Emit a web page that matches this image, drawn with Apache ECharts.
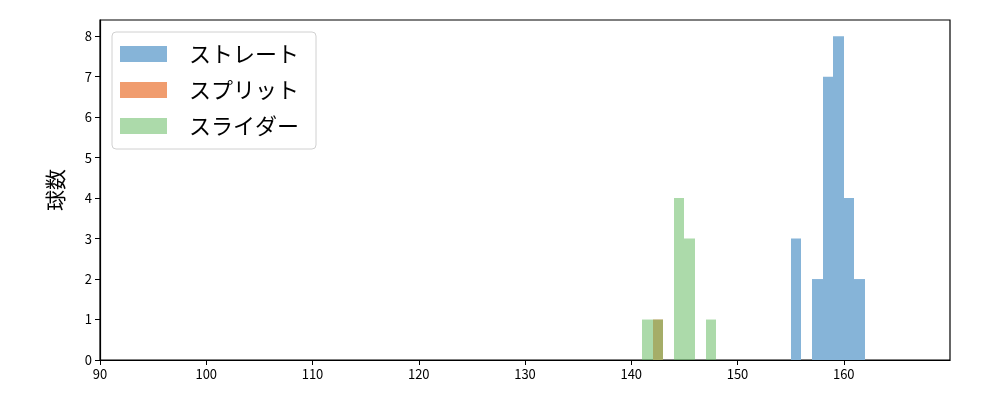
<!DOCTYPE html>
<html>
<head>
<meta charset="utf-8">
<script src="https://cdn.jsdelivr.net/npm/echarts@6/dist/echarts.min.js"></script>
<style>html,body{margin:0;padding:0;background:#fff}#c{width:1000px;height:400px}</style>
</head>
<body>
<div id="c"></div>
<script>
// bin start (km/h), bin width 1, counts
const straightBins = [155, 157, 158, 159, 160, 161];
const straightCounts = [3, 2, 7, 8, 4, 2];
const splitBins = [142];
const splitCounts = [1];
const sliderBins = [141, 142, 144, 145, 147];
const sliderCounts = [1, 1, 4, 3, 1];
const binWidth = 1;
const xTicks = [90, 100, 110, 120, 130, 140, 150, 160];
const yTicks = [0, 1, 2, 3, 4, 5, 6, 7, 8];
const seriesNames = ['ストレート', 'スプリット', 'スライダー'];

const FONT = '"Noto Sans CJK JP", "DejaVu Sans", sans-serif';

function toData(bins, counts) {
  return bins.map((b, i) => [b, counts[i]]);
}
function renderItem(params, api) {
  const x0 = api.value(0), c = api.value(1);
  const p0 = api.coord([x0, c]);
  const p1 = api.coord([x0 + binWidth, 0]);
  const xa = Math.round(p0[0]), xb = Math.round(p1[0]);
  return {
    type: 'rect',
    shape: { x: xa, y: p0[1], width: xb - xa, height: p1[1] - p0[1] },
    style: { fill: api.visual('color'), stroke: null, lineWidth: 0 }
  };
}
const colors = ['#86b4d8', '#f09c6e', 'rgba(104,188,100,0.55)'];
const datasets = [toData(straightBins, straightCounts), toData(splitBins, splitCounts), toData(sliderBins, sliderCounts)];

const chart = echarts.init(document.getElementById('c'));
chart.setOption({
  animation: false,
  grid: { left: 100, right: 50, top: 20, bottom: 40, show: true, borderColor: '#000', borderWidth: 1.2 },
  xAxis: {
    type: 'value', min: 90, max: 170, interval: 10,
    axisLine: { show: true, lineStyle: { color: '#000', width: 1.2 } },
    axisTick: { show: true, length: 5, inside: false, customValues: xTicks, lineStyle: { color: '#000' } },
    axisLabel: { color: '#000', fontSize: 13, fontFamily: FONT, margin: 8, customValues: xTicks },
    splitLine: { show: false }
  },
  yAxis: {
    type: 'value', min: 0, max: 8.4, interval: 1,
    name: '球数', nameLocation: 'middle', nameGap: 34,
    nameTextStyle: { fontSize: 21, color: '#000', fontFamily: FONT },
    axisLine: { show: true, lineStyle: { color: '#000', width: 1.2 } },
    axisTick: { show: true, length: 5, customValues: yTicks, lineStyle: { color: '#000' } },
    axisLabel: { color: '#000', fontSize: 13, fontFamily: FONT, margin: 8, customValues: yTicks },
    splitLine: { show: false }
  },
  legend: {
    orient: 'vertical', left: 112, top: 32,
    data: seriesNames.map(n => ({ name: n, icon: 'rect' })),
    itemWidth: 47, itemHeight: 16, itemGap: 14,
    padding: [11, 17, 12, 8],
    backgroundColor: '#fff', borderColor: '#d0d0d0', borderWidth: 1, borderRadius: 4,
    textStyle: { fontSize: 22, color: '#000', fontFamily: FONT, padding: [0, 0, 0, 17] }
  },
  series: seriesNames.map((n, i) => ({
    name: n, type: 'custom', renderItem: renderItem,
    encode: { x: 0, y: 1 },
    itemStyle: { color: colors[i] },
    data: datasets[i],
    z: 2 + i
  }))
});
</script>
</body>
</html>
